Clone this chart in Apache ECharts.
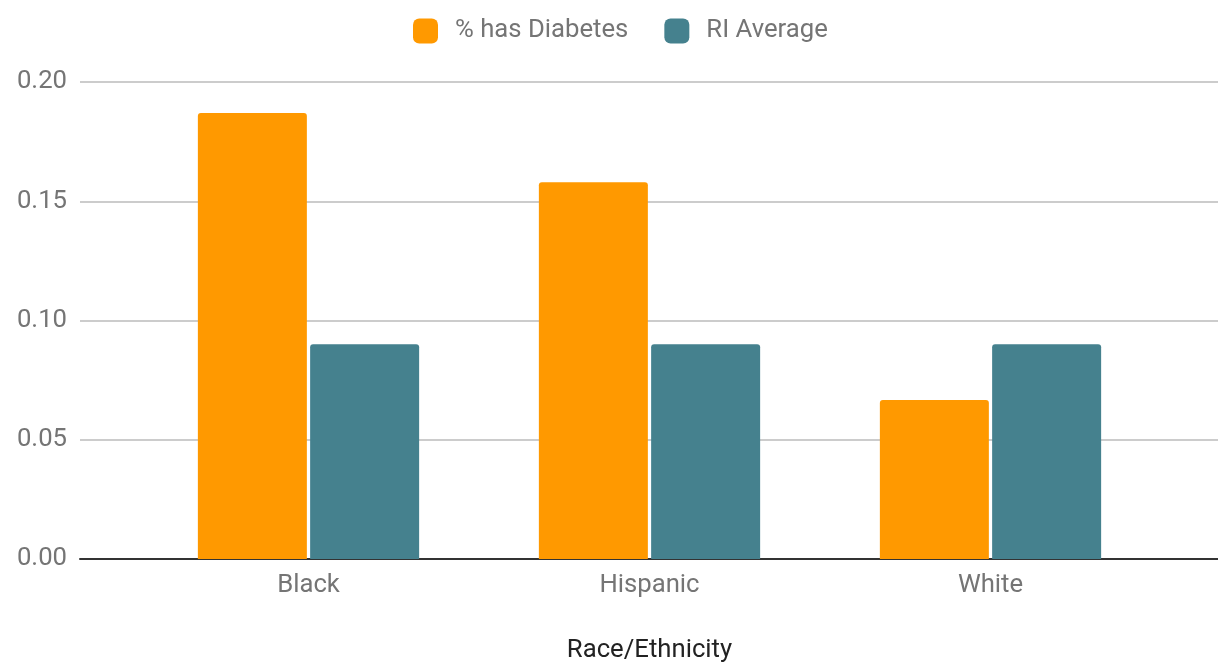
<!DOCTYPE html>
<html>
<head>
<meta charset="utf-8">
<style>
  html, body { margin: 0; padding: 0; background: #fff; }
  #chart { width: 1218px; height: 664px; }
</style>
<script src="https://cdn.jsdelivr.net/npm/echarts@6/dist/echarts.min.js"></script>
</head>
<body>
<div id="chart"></div>
<script>
// Diabetes prevalence by race/ethnicity vs. the state average
const categories = ['Black', 'Hispanic', 'White'];
const hasDiabetes = [0.187, 0.158, 0.0667];
const riAverage = [0.09, 0.09, 0.09];
const yTicks = { min: 0, max: 0.2, interval: 0.05 };
const seriesNames = ['% has Diabetes', 'RI Average'];
const axisTitle = 'Race/Ethnicity';

const FONT = 'Roboto, "Noto Sans", sans-serif';
const FS = 25.7;
const chart = echarts.init(document.getElementById('chart'), null, { renderer: 'canvas' });

const plotTop = 82, plotBottom = 105;

chart.setOption({
  animation: false,
  backgroundColor: '#ffffff',
  textStyle: { fontFamily: FONT },
  legend: {
    top: 13,
    left: 408,
    itemWidth: 25,
    itemHeight: 25,
    itemGap: 36,
    icon: 'roundRect',
    textStyle: { fontSize: FS, color: '#757575', fontFamily: FONT, padding: [0, 0, 0, 12] },
    data: seriesNames
  },
  grid: [
    // full-width frame carrying the value labels and gridlines
    { left: 80, right: 0, top: plotTop, bottom: plotBottom, outerBoundsMode: 'none', containLabel: false },
    // inner band where the bars sit
    { left: 138, right: 57, top: plotTop, bottom: plotBottom, outerBoundsMode: 'none', containLabel: false }
  ],
  xAxis: [
    {
      gridIndex: 0, type: 'category', data: [''],
      axisLine: { show: true, lineStyle: { color: '#333', width: 2 } },
      axisTick: { show: false }, axisLabel: { show: false }
    },
    {
      gridIndex: 1, type: 'category', data: categories,
      axisLine: { show: false }, axisTick: { show: false },
      axisLabel: { fontSize: FS, color: '#757575', margin: 14, fontFamily: FONT },
      name: axisTitle, nameLocation: 'middle', nameGap: 79,
      nameTextStyle: { fontSize: FS, color: '#222', fontFamily: FONT }
    }
  ],
  yAxis: [
    {
      gridIndex: 0, type: 'value', min: yTicks.min, max: yTicks.max, interval: yTicks.interval,
      axisLine: { show: false }, axisTick: { show: false },
      axisLabel: { fontSize: FS, color: '#757575', margin: 13, fontFamily: FONT,
                   formatter: v => v.toFixed(2) },
      splitLine: { show: true, lineStyle: { color: '#cccccc', width: 2 } }
    },
    {
      gridIndex: 1, type: 'value', min: yTicks.min, max: yTicks.max, interval: yTicks.interval,
      show: false, splitLine: { show: false }
    }
  ],
  series: [
    {
      name: seriesNames[0], type: 'bar', xAxisIndex: 1, yAxisIndex: 1,
      data: hasDiabetes, barWidth: 109, barGap: '3%',
      itemStyle: { color: '#ff9900', borderRadius: [3, 3, 0, 0] }
    },
    {
      name: seriesNames[1], type: 'bar', xAxisIndex: 1, yAxisIndex: 1,
      data: riAverage, barWidth: 109, barGap: '3%',
      itemStyle: { color: '#45818e', borderRadius: [3, 3, 0, 0] }
    }
  ]
});
</script>
</body>
</html>
